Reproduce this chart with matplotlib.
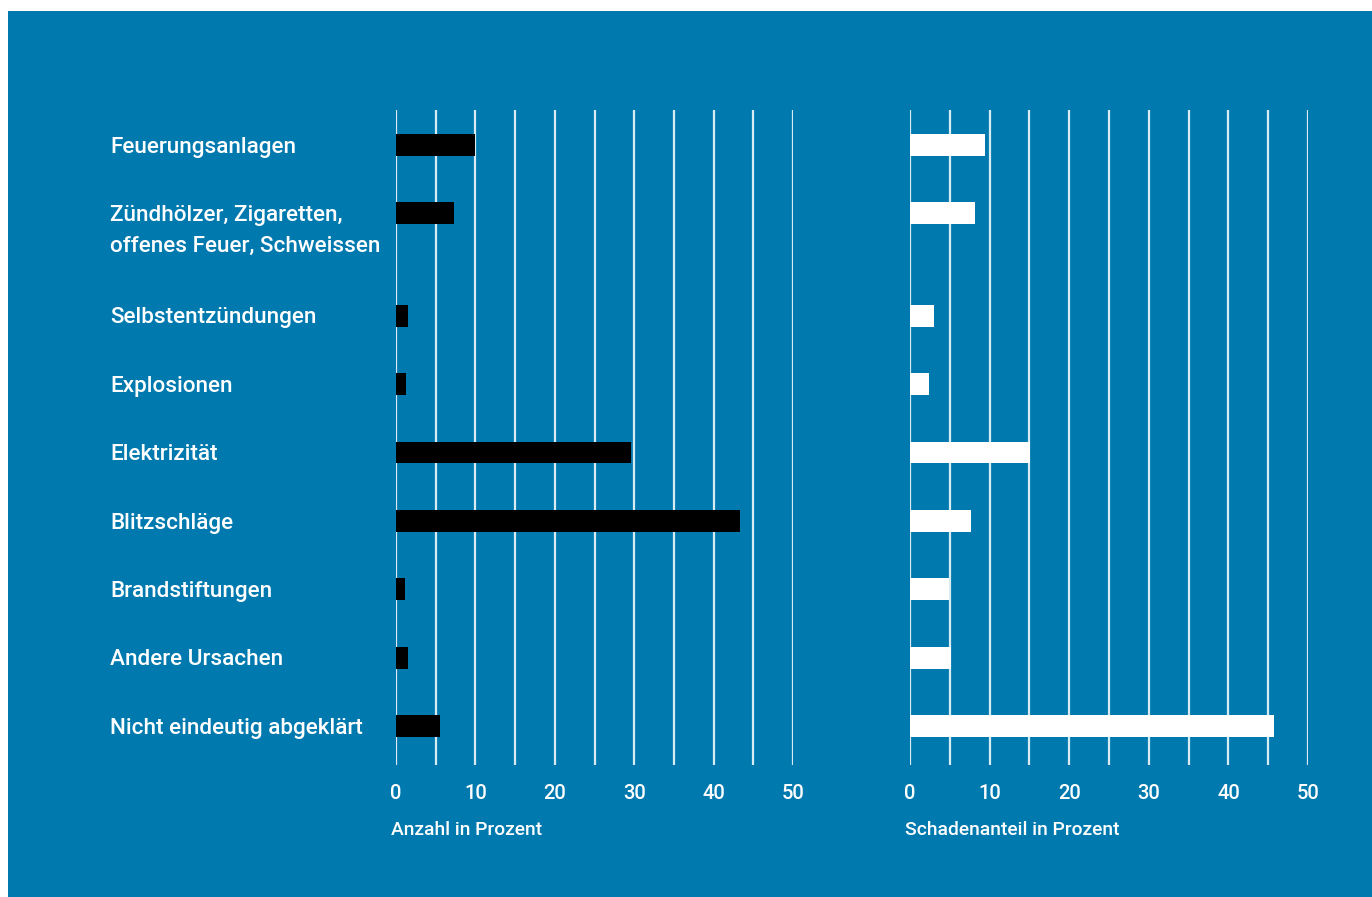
import matplotlib.pyplot as plt
from matplotlib.patches import Rectangle

# Data
categories = [
    "Feuerungsanlagen",
    "Zündhölzer, Zigaretten,\noffenes Feuer, Schweissen",
    "Selbstentzündungen",
    "Explosionen",
    "Elektrizität",
    "Blitzschläge",
    "Brandstiftungen",
    "Andere Ursachen",
    "Nicht eindeutig abgeklärt",
]
anzahl = [9.9, 7.3, 1.5, 1.25, 29.6, 43.3, 1.1, 1.5, 5.5]
schaden = [9.4, 8.2, 3.0, 2.4, 15.1, 7.7, 4.9, 5.1, 45.7]
# row positions (extra space after the two-line label)
rows = [0, 1, 2.5, 3.5, 4.5, 5.5, 6.5, 7.5, 8.5]

blue = "#0079AF"
W, H = 1372, 897

plt.rcParams['font.family'] = ['Roboto', 'DejaVu Sans']

fig = plt.figure(figsize=(W / 100, H / 100), dpi=100)
fig.patch.set_facecolor("white")
fig.add_artist(Rectangle((8 / W, 0), 1 - 8 / W, 1 - 11 / H, transform=fig.transFigure,
                         facecolor=blue, edgecolor="none", zorder=-10))

bottom = 1 - 765 / H
height = (765 - 110) / H
ax1 = fig.add_axes([396 / W, bottom, (793 - 396) / W, height])
ax2 = fig.add_axes([910 / W, bottom, (1308 - 910) / W, height])

for ax, vals, col, xlabel in [(ax1, anzahl, "black", "Anzahl in Prozent"),
                              (ax2, schaden, "white", "Schadenanteil in Prozent")]:
    ax.set_facecolor("none")
    ax.barh(rows, vals, height=0.32, color=col, zorder=3)
    ax.set_xlim(0, 50)
    ax.set_ylim(9.07, -0.51)
    ax.set_xticks(range(0, 51, 10))
    ax.set_xticks(range(5, 50, 10), minor=True)
    ax.grid(axis='x', which='both', color='white', linewidth=1.6, alpha=0.85, zorder=1)
    ax.set_yticks([])
    ax.tick_params(axis='x', which='both', length=0, pad=13.5, labelsize=14.5,
                   labelcolor='white')
    for s in ax.spines.values():
        s.set_visible(False)
    ax.set_xlabel(xlabel, loc='left', color='white', fontsize=13.9, fontweight='medium')
    ax.xaxis.set_label_coords(-0.013, -0.086)
    for t in ax.get_xticklabels():
        t.set_fontweight('medium')

# category labels, one line at a time so the first line sits on the bar
for cat, r in zip(categories, rows):
    for i, line in enumerate(cat.split("\n")):
        ax1.annotate(line, xy=(110 / W, r), xycoords=('figure fraction', 'data'),
                     xytext=(0, -5.5 - i * 22.3), textcoords='offset points',
                     ha='left', va='baseline', color='white', fontsize=16.2,
                     fontweight='medium')

fig.savefig("out.png", dpi=100)
